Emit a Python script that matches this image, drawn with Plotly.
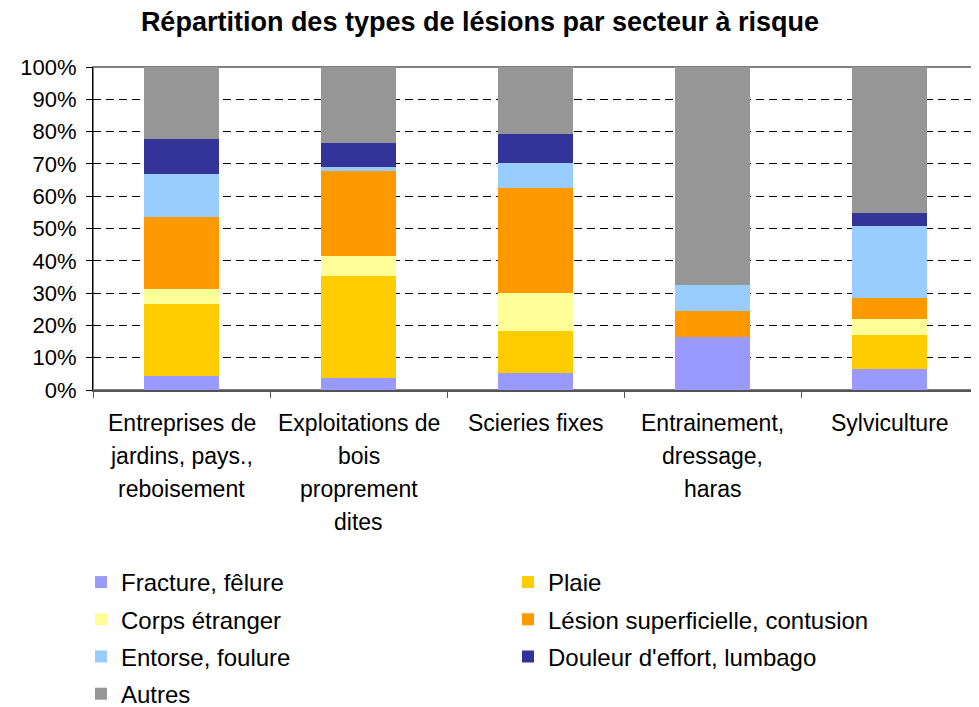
import plotly.graph_objects as go

secteurs = [
    ["Entreprises de", "jardins, pays.,", "reboisement"],
    ["Exploitations de", "bois", "proprement", "dites"],
    ["Scieries fixes"],
    ["Entrainement,", "dressage,", "haras"],
    ["Sylviculture"],
]
categories = [" ".join(s) for s in secteurs]

fracture = [4.4, 3.6, 5.2, 16.5, 6.4]
plaie = [22.3, 31.7, 13.2, 0, 10.7]
corps = [4.6, 6.1, 11.6, 0, 4.9]
lesion = [22.3, 26.4, 32.4, 8.0, 6.6]
entorse = [13.4, 1.3, 7.9, 8.1, 22.3]
douleur = [10.8, 7.5, 9.0, 0, 4.0]
autres = [22.2, 23.4, 20.7, 67.4, 45.1]

# name, values, colour, legend column
series = [
    ("Fracture, fêlure", fracture, "#9999FF", "legend"),
    ("Plaie", plaie, "#FFCC00", "legend2"),
    ("Corps étranger", corps, "#FFFF99", "legend"),
    ("Lésion superficielle, contusion", lesion, "#FF9900", "legend2"),
    ("Entorse, foulure", entorse, "#99CCFF", "legend"),
    ("Douleur d'effort, lumbago", douleur, "#333399", "legend2"),
    ("Autres", autres, "#969696", "legend"),
]

font = "Liberation Sans, Arial, sans-serif"
W, H = 971, 699  # page body adds an 8px margin

fig = go.Figure()
for name, vals, color, leg in series:
    fig.add_trace(go.Bar(x=categories, y=vals, name=name, legend=leg,
                         legendgroup=name,
                         marker=dict(color=color, line=dict(width=0))))

# category labels, one annotation per line to get the wide line spacing
for cat, lines in zip(categories, secteurs):
    for i, line in enumerate(lines):
        fig.add_annotation(x=cat, y=0, xref="x", yref="y", text=line,
                           showarrow=False, yanchor="middle",
                           yshift=-(33 + 33 * i),
                           font=dict(family=font, size=23, color="black"))

legend_style = dict(orientation="v", traceorder="grouped",
                    xref="container", yref="container",
                    xanchor="left", y=1 - 552 / H, yanchor="top",
                    tracegroupgap=3, itemwidth=30,
                    font=dict(family=font, size=24, color="black"))

fig.update_layout(
    barmode="stack",
    bargap=0.58,
    width=W, height=H,
    margin=dict(l=85, r=1, t=59, b=317, autoexpand=False),
    paper_bgcolor="white",
    plot_bgcolor="white",
    font=dict(family=font, size=22, color="black"),
    title=dict(text="<b>Répartition des types de lésions par secteur à risque</b>",
               x=472 / W, xanchor="center", y=1 - 14 / H, yanchor="middle",
               font=dict(family=font, size=27, color="black")),
    showlegend=True,
    legend=dict(legend_style, x=73 / W),
    legend2=dict(legend_style, x=500 / W),
)

fig.update_xaxes(showticklabels=False, ticks="outside", tickson="boundaries",
                 ticklen=6, tickcolor="#555555", showline=True,
                 linecolor="#555555", linewidth=2, mirror=False,
                 automargin=False)
fig.update_yaxes(range=[0, 100], dtick=10, ticksuffix="%", ticks="outside",
                 ticklen=6, tickcolor="black", showline=True, linecolor="black",
                 linewidth=1, showgrid=True, gridcolor="black",
                 griddash="8px,5px", gridwidth=1, zeroline=False,
                 automargin=False, ticklabelstandoff=5,
                 tickfont=dict(family=font, size=22, color="black"))
# gray frame on top and right of the plot area
fig.add_shape(type="rect", xref="paper", yref="paper", x0=0, y0=0, x1=1, y1=1,
              line=dict(color="#808080", width=2), layer="below")

fig.write_html("out.html")
